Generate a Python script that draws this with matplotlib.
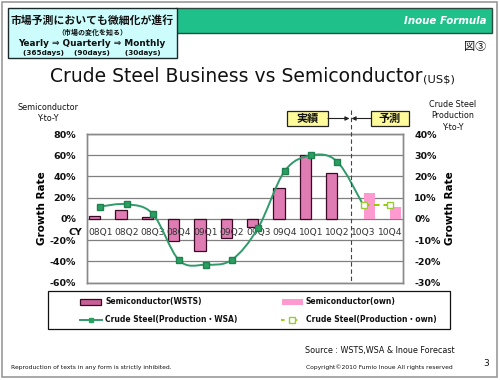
import matplotlib
matplotlib.use("Agg")
import matplotlib.pyplot as plt
import numpy as np
from matplotlib.patches import Rectangle, PathPatch
from matplotlib.path import Path
from matplotlib.lines import Line2D

plt.rcParams['font.family'] = ['DejaVu Sans']
JP = ['Noto Sans CJK JP', 'DejaVu Sans']
LAT = ['DejaVu Sans', 'Noto Sans CJK JP']

categories = ['08Q1', '08Q2', '08Q3', '08Q4', '09Q1', '09Q2', '09Q3', '09Q4',
              '10Q1', '10Q2', '10Q3', '10Q4']
semi_wsts = [3, 8, 2, -21, -30, -18.5, -8, 29, 60, 43, None, None]
semi_own = [None] * 10 + [24, 11]
steel_wsa = [5.8, 6.9, 2.3, -19.6, -21.6, -19.3, -4.2, 22.4, 29.9, 27.0, None, None]
steel_own = [None] * 10 + [6.3, 6.3]
left_ticks = [-60, -40, -20, 0, 20, 40, 60, 80]
right_ticks = [-30, -20, -10, 0, 10, 20, 30, 40]

W, H = 500, 380
fig = plt.figure(figsize=(5, 3.8), dpi=100)
fig.patch.set_facecolor('white')

def fx(px):
    return px / W

def fy(py):
    return 1 - py / H

# outer frame
fig.add_artist(Rectangle((fx(2), fy(377)), fx(495), (375) / H, transform=fig.transFigure,
                         fill=False, edgecolor='#9a9a9a', lw=1.2))
# green header bar
fig.add_artist(Rectangle((fx(176), fy(33)), fx(316), 25 / H, transform=fig.transFigure,
                         facecolor='#1fc08a', edgecolor='#2d4a40', lw=1.0))
# cyan box
fig.add_artist(Rectangle((fx(8), fy(58)), fx(169), 50 / H, transform=fig.transFigure,
                         facecolor='#ccfcfc', edgecolor='#1a2a2a', lw=1.0))
fig.text(fx(92), fy(20), '市場予測においても微細化が進行', family=JP, fontsize=7.8,
         fontweight='bold', ha='center', va='center', color='#111111')
fig.text(fx(92), fy(32), '（市場の変化を知る）', family=JP, fontsize=5.0,
         fontweight='bold', ha='center', va='center', color='#111111')
fig.text(fx(92), fy(43), 'Yearly ⇒ Quarterly ⇒ Monthly', family=LAT, fontsize=6.4,
         fontweight='bold', ha='center', va='center', color='#111111')
fig.text(fx(92), fy(53.5), '(365days)    (90days)      (30days)', fontsize=5.2,
         fontweight='bold', ha='center', va='center', color='#111111')
fig.text(fx(487), fy(20.5), 'Inoue Formula', fontsize=7.4, fontweight='bold',
         style='italic', ha='right', va='center', color='white')
fig.text(fx(486), fy(47), '図③', family=JP, fontsize=8, ha='right', va='center',
         color='#111111')

# title
fig.text(fx(50), fy(76), 'Crude Steel Business vs Semiconductor', fontsize=13.5,
         ha='left', va='center', color='#111111')
fig.text(fx(423), fy(79), '(US$)', fontsize=8.2, ha='left', va='center', color='#111111')

# axes
ax = fig.add_axes([fx(87), fy(282.5), fx(403 - 87), (282.5 - 134) / H])
ax2 = ax.twinx()
x = np.arange(len(categories))
bw = 0.42
wv = [np.nan if v is None else v for v in semi_wsts]
ov = [np.nan if v is None else v for v in semi_own]
ax.bar(x, wv, width=-bw, align='edge', facecolor='#e07cb4', edgecolor='#3a0a24',
       lw=0.9, zorder=3)
ax.bar(x, ov, width=bw, align='edge', facecolor='#ff9ad0', edgecolor='none', zorder=3)
ax.set_xlim(-0.5, len(categories) - 0.5)
ax.set_ylim(-60, 80)
ax.set_yticks(left_ticks)
ax.set_yticklabels([f'{t}%' for t in left_ticks])
ax2.set_ylim(-30, 40)
ax2.set_yticks(right_ticks)
ax2.set_yticklabels([f'{t}%' for t in right_ticks])
for a in (ax, ax2):
    a.tick_params(axis='y', length=0, labelsize=6.8, pad=8)
    for lab in a.get_yticklabels():
        lab.set_fontweight('bold')
        lab.set_color('#111111')
    for s in a.spines.values():
        s.set_color('#8a8a8a')
        s.set_linewidth(1.0)
ax.set_xticks([])
ax.grid(axis='y', color='#808080', lw=0.9, zorder=0)
ax.set_axisbelow(True)
ax.set_ylabel('Growth Rate', fontsize=7.5, fontweight='bold', labelpad=2)
ax2.set_ylabel('Growth Rate', fontsize=7.5, fontweight='bold', labelpad=3)

# category labels
for i, c in enumerate(categories):
    ax.text(i, -13, c, ha='center', va='center', fontsize=6.6, color='#333333', zorder=5)
ax.text(-0.95, -13, 'CY', ha='center', va='center', fontsize=6.8, fontweight='bold',
        color='#111111', clip_on=False)

# smooth green curve (Catmull-Rom through WSA points and first own point)
pts_y = [v for v in steel_wsa if v is not None] + [steel_own[10]]
pts = np.column_stack([np.arange(len(pts_y)), pts_y])
verts = [tuple(pts[0])]
codes = [Path.MOVETO]
n = len(pts)
for i in range(n - 1):
    p0 = pts[max(i - 1, 0)]
    p1 = pts[i]
    p2 = pts[i + 1]
    p3 = pts[min(i + 2, n - 1)]
    c1 = p1 + (p2 - p0) / 6
    c2 = p2 - (p3 - p1) / 6
    verts += [tuple(c1), tuple(c2), tuple(p2)]
    codes += [Path.CURVE4] * 3
ax2.add_patch(PathPatch(Path(verts, codes), facecolor='none', edgecolor='#2f9a6a',
                        lw=1.4, zorder=6))
sv = [np.nan if v is None else v for v in steel_wsa]
ax2.plot(x, sv, ls='none', marker='s', ms=4.2, color='#2aa060', mec='#1f8050',
         zorder=7)
so = [np.nan if v is None else v for v in steel_own]
ax2.plot(x, so, ls=(0, (3, 2)), lw=1.4, color='#99cc00', marker='s', ms=5,
         mfc='white', mec='#99cc33', zorder=7)

# forecast divider
fig.add_artist(Line2D([fx(350.5), fx(350.5)], [fy(110), fy(282.5)],
                      transform=fig.transFigure, color='#444444', lw=0.8,
                      ls=(0, (4, 2.5)), zorder=8))
for (x0, x1, label) in [(287, 328, '実績'), (371, 409, '予測')]:
    fig.add_artist(Rectangle((fx(x0), fy(126)), fx(x1 - x0), 15 / H,
                             transform=fig.transFigure, facecolor='#fffb9a',
                             edgecolor='#222222', lw=0.9))
    fig.text(fx((x0 + x1) / 2), fy(118.5), label, family=JP, fontsize=8,
             fontweight='bold', ha='center', va='center', color='#111111')
fig.add_artist(plt.Annotation('', xy=(fx(349.5), fy(118.5)), xytext=(fx(328), fy(118.5)),
                              xycoords='figure fraction',
                              arrowprops=dict(arrowstyle='-|>', color='#222222', lw=0.8,
                                              mutation_scale=6, shrinkA=0, shrinkB=0)))
fig.add_artist(plt.Annotation('', xy=(fx(351.5), fy(118.5)), xytext=(fx(371), fy(118.5)),
                              xycoords='figure fraction',
                              arrowprops=dict(arrowstyle='-|>', color='#222222', lw=0.8,
                                              mutation_scale=6, shrinkA=0, shrinkB=0)))

# axis captions
fig.text(fx(48), fy(113), 'Semiconductor\nY-to-Y', fontsize=5.8, ha='center',
         va='center', color='#111111', linespacing=1.3)
fig.text(fx(453), fy(116), 'Crude Steel\nProduction\nY-to-Y', fontsize=5.8,
         ha='center', va='center', color='#111111', linespacing=1.3)

# legend box
fig.add_artist(Rectangle((fx(48), fy(329)), fx(402), 38 / H, transform=fig.transFigure,
                         facecolor='white', edgecolor='#111111', lw=0.9))
r1, r2 = 301.5, 319.5
fig.add_artist(Rectangle((fx(80), fy(r1 + 3)), fx(21), 6 / H, transform=fig.transFigure,
                         facecolor='#c86098', edgecolor='#3a0a24', lw=0.9))
fig.text(fx(105), fy(r1), 'Semiconductor(WSTS)', fontsize=5.5, fontweight='bold',
         va='center', color='#111111')
fig.add_artist(Rectangle((fx(282), fy(r1 + 3)), fx(21), 6 / H, transform=fig.transFigure,
                         facecolor='#ff9ad0', edgecolor='none'))
fig.text(fx(306), fy(r1), 'Semiconductor(own)', fontsize=5.5, fontweight='bold',
         va='center', color='#111111')
fig.add_artist(Line2D([fx(80), fx(102)], [fy(r2), fy(r2)], transform=fig.transFigure,
                      color='#2f9a6a', lw=1.4))
fig.add_artist(Line2D([fx(91)], [fy(r2)], transform=fig.transFigure, ls='none',
                      marker='s', ms=3.5, color='#2aa060'))
fig.text(fx(105), fy(r2), 'Crude Steel(Production・WSA)', family=LAT, fontsize=5.5,
         fontweight='bold', va='center', color='#111111')
fig.add_artist(Line2D([fx(281), fx(303)], [fy(r2), fy(r2)], transform=fig.transFigure,
                      color='#99cc00', lw=1.3, ls=(0, (2, 5))))
fig.add_artist(Line2D([fx(292)], [fy(r2)], transform=fig.transFigure, ls='none',
                      marker='s', ms=4, mfc='white', mec='#99cc33'))
fig.text(fx(306), fy(r2), 'Crude Steel(Production・own)', family=LAT, fontsize=5.5,
         fontweight='bold', va='center', color='#111111')

# footer
fig.text(fx(455), fy(351), 'Source : WSTS,WSA & Inoue Forecast', fontsize=5.8,
         ha='right', va='center', color='#111111')
fig.text(fx(11), fy(367), 'Reproduction of texts in any form is strictly inhibited.',
         fontsize=4.3, ha='left', va='center', color='#111111')
fig.text(fx(453), fy(367), 'Copyright©2010 Fumio Inoue All rights reserved',
         fontsize=4.3, ha='right', va='center', color='#111111')
fig.text(fx(486), fy(364), '3', fontsize=6.5, ha='center', va='center', color='#111111')

fig.savefig('out.png', dpi=100, facecolor='white')
